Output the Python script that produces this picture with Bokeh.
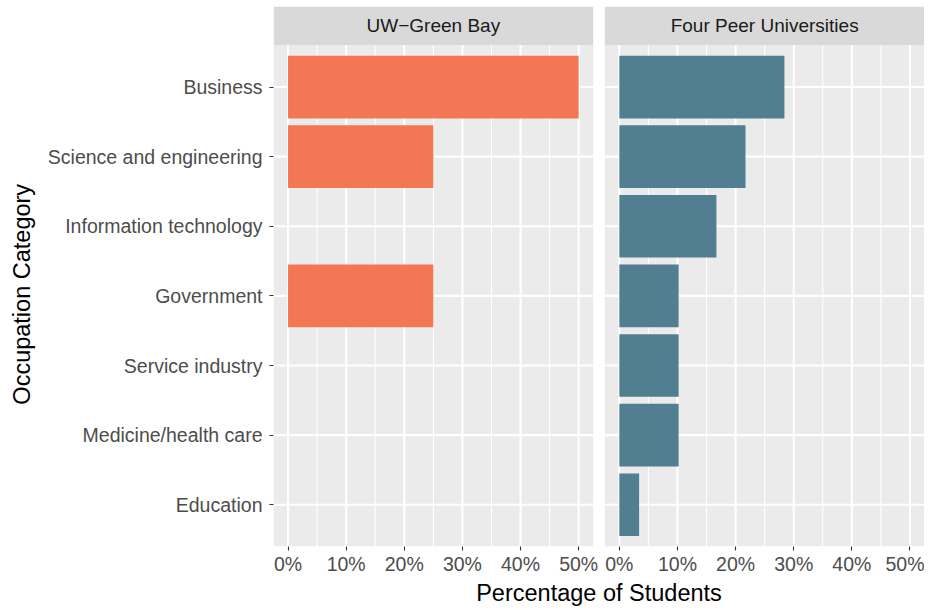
from bokeh.plotting import figure
from bokeh.layouts import row
from bokeh.models import Range1d, FixedTicker
from bokeh.embed import file_html
from bokeh.resources import INLINE
from bokeh.core.properties import value
import math

categories = ["Business", "Science and engineering", "Information technology",
              "Government", "Service industry", "Medicine/health care", "Education"]
uwgb_pct = [50, 25, 0, 25, 0, 0, 0]
peer_pct = [28.4, 21.7, 16.7, 10.2, 10.2, 10.2, 3.4]
panel_titles = ["UW\u2212Green Bay", "Four Peer Universities"]
x_major = [0, 10, 20, 30, 40, 50]
x_minor = [5, 15, 25, 35, 45]
x_tick_labels = ["0%", "10%", "20%", "30%", "40%", "50%"]
bar_colors = ["#F37754", "#517E91"]
x_title = "Percentage of Students"
y_title = "Occupation Category"

FONT = "Liberation Sans"
XLO, XHI = -2.5, 52.5          # ggplot-like 5% expansion
OFFSET = 57                    # data offset of the second panel
YLO, YHI = 0.4, 7.6            # discrete expansion 0.6
STRIP = 39 / 70.0              # strip height in y units
H = 608
LEFTW = 36

# narrow figure holding the rotated y title
t = figure(width=LEFTW, height=H, output_backend="svg", toolbar_location=None,
           x_range=Range1d(0, LEFTW), y_range=Range1d(0, H),
           x_axis_location=None, y_axis_location=None,
           min_border=0, min_border_left=0, min_border_right=0,
           min_border_top=0, min_border_bottom=0)
t.outline_line_color = None
t.xgrid.visible = False
t.ygrid.visible = False
t.text(x=[21], y=[H - 324], text=[y_title], angle=math.pi / 2,
       text_align="center", text_baseline="middle",
       text_font=value(FONT), text_font_size="23.5px", text_color="black")

p = figure(width=924 - LEFTW, height=H, output_backend="svg", toolbar_location=None,
           x_range=Range1d(XLO, OFFSET + XHI),
           y_range=Range1d(start=YHI, end=YLO - STRIP),
           min_border_left=273 - LEFTW, min_border_right=0, min_border_top=6,
           min_border_bottom=59)
p.outline_line_color = None
p.xgrid.visible = False
p.ygrid.visible = False
p.background_fill_color = "white"

ypos = list(range(1, len(categories) + 1))

for i, (vals, title) in enumerate(zip([uwgb_pct, peer_pct], panel_titles)):
    off = i * OFFSET
    p.quad(left=[off + XLO], right=[off + XHI], bottom=[YHI], top=[YLO],
           fill_color="#EBEBEB", line_color=None)
    p.quad(left=[off + XLO], right=[off + XHI], bottom=[YLO], top=[YLO - STRIP],
           fill_color="#D9D9D9", line_color=None)
    p.text(x=[off + (XLO + XHI) / 2], y=[YLO - STRIP / 2], text=[title],
           text_align="center", text_baseline="middle",
           text_font=value(FONT), text_font_size="19px", text_color="#1A1A1A")
    p.segment(x0=[off + v for v in x_minor], x1=[off + v for v in x_minor],
              y0=[YLO] * len(x_minor), y1=[YHI] * len(x_minor),
              line_color="white", line_width=1.1)
    p.segment(x0=[off + v for v in x_major], x1=[off + v for v in x_major],
              y0=[YLO] * len(x_major), y1=[YHI] * len(x_major),
              line_color="white", line_width=2.1)
    p.segment(x0=[off + XLO] * len(ypos), x1=[off + XHI] * len(ypos),
              y0=ypos, y1=ypos, line_color="white", line_width=2.1)
    yy = [y for y, v in zip(ypos, vals) if v > 0]
    vv = [v for v in vals if v > 0]
    p.hbar(y=yy, left=[off] * len(vv), right=[off + v for v in vv], height=0.9,
           fill_color=bar_colors[i], line_color=None)

ticks = x_major + [OFFSET + v for v in x_major]
p.xaxis.ticker = FixedTicker(ticks=ticks)
overrides = {}
for v, lab in zip(x_major, x_tick_labels):
    overrides[v] = lab
    overrides[OFFSET + v] = lab
p.xaxis.major_label_overrides = overrides
p.xaxis.axis_line_color = None
p.xaxis.minor_tick_line_color = None
p.xaxis.major_tick_in = 0
p.xaxis.major_tick_out = 4
p.xaxis.major_tick_line_color = "#333333"
p.xaxis.major_tick_line_width = 1.1
p.xaxis.major_label_text_font = FONT
p.xaxis.major_label_text_font_size = "19.5px"
p.xaxis.major_label_text_color = "#4D4D4D"
p.xaxis.major_label_standoff = 2
p.xaxis.axis_label = x_title
p.xaxis.axis_label_text_font = FONT
p.xaxis.axis_label_text_font_size = "23.5px"
p.xaxis.axis_label_text_font_style = "normal"
p.xaxis.axis_label_text_color = "black"
p.xaxis.axis_label_standoff = 2

p.yaxis.ticker = FixedTicker(ticks=ypos)
p.yaxis.major_label_overrides = {y: c for y, c in zip(ypos, categories)}
p.yaxis.axis_line_color = None
p.yaxis.minor_tick_line_color = None
p.yaxis.major_tick_in = 0
p.yaxis.major_tick_out = 4
p.yaxis.major_tick_line_color = "#333333"
p.yaxis.major_tick_line_width = 1.1
p.yaxis.major_label_text_font = FONT
p.yaxis.major_label_text_font_size = "19.5px"
p.yaxis.major_label_text_color = "#4D4D4D"
p.yaxis.major_label_standoff = 7

layout = row(t, p)
open("out.html", "w").write(file_html(layout, INLINE))
